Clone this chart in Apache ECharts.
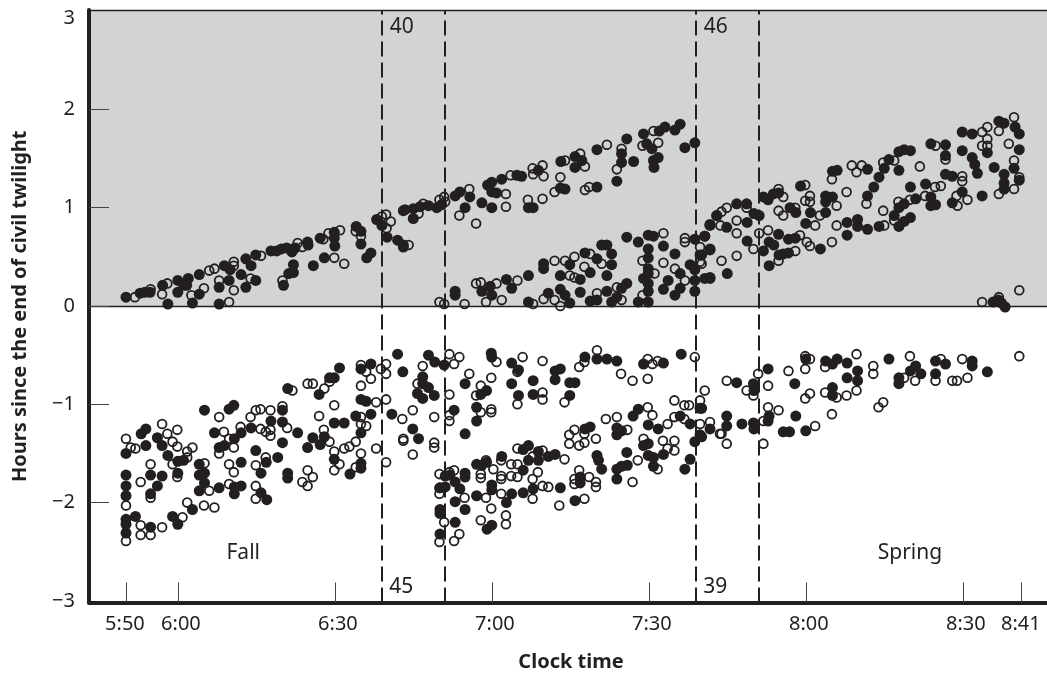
<!DOCTYPE html>
<html><head><meta charset="utf-8">
<script src="https://cdn.jsdelivr.net/npm/echarts@6/dist/echarts.min.js"></script>
<style>html,body{margin:0;padding:0;background:#fff}#c{width:1047px;height:673px}</style>
</head><body><div id="c"></div>
<script>
// x = minutes after 5:50 clock time, y = hours since the end of civil twilight
const tickMinutes=[0,10,40,70,100,130,160,171];
const tickLabels=['5:50','6:00','6:30','7:00','7:30','8:00','8:30','8:41'];
const labelMinutes=[-0.2,10.5,40.5,70.5,100.5,130.5,160.5,171];
const yTicks=[-2,-1,0,1,2];
const yLabelValues=[-3,-2,-1,0,1,2,2.93];
const dashedMinutes=[48.9,61,108.9,121];
const notes=[[52.7,2.84,'40'],[112.7,2.84,'46'],[52.6,-2.86,'45'],[112.6,-2.86,'39'],[22.4,-2.51,'Fall'],[149.8,-2.51,'Spring']];

const filledAbove=[[0,.09],[2.7,.13],[3.6,.14],[4.6,.14],[7,.21],[8,.02],[9.9,.26],[9.9,.14],[11,.21],[11.9,.28],[11.6,.21],[12.7,.03],[14,.12],[14,.32],[17.8,.02],[17.8,.19],[18.8,.41],[19.7,.26],[19.9,.37],[22,.32],[22.9,.19],[22.9,.48],[23.9,.41],[24.8,.26],[24.8,.52],[27.7,.56],[28.8,.56],[29.7,.58],[30.7,.59],[31.7,.55],[32.3,.59],[31.1,.33],[32,.42],[32,.34],[30.1,.21],[34.7,.65],[34.8,.62],[35.8,.41],[37.1,.69],[37.9,.49],[39.8,.75],[39.8,.69],[39.9,.61],[44,.81],[44.9,.76],[44.9,.63],[46,.49],[46.8,.54],[47.9,.88],[48.9,.82],[49.9,.7],[51.9,.67],[53,.6],[53,.97],
[53.3,.98],[54.9,.89],[54.9,.99],[56.2,1.01],[57.8,1.02],[59.4,1],[60.3,1.03],[53,.62],[62.9,1.12],[63.8,1.16],[65.7,1.11],[64.8,1],[68,1.05],[69.1,1.23],[69.9,1.26],[69.9,1.16],[70.8,1.15],[69.9,1],[71.8,1.29],[74.7,1.33],[75.6,1.32],[76.9,1],[77.8,1],[78.8,1.38],[83.1,1.47],[83,1.2],[83.9,1.19],[85.8,1.52],[85.8,1.41],[87.1,1.48],[90,1.59],[90,1.21],[93.8,1.27],[94.7,1.55],[94.7,1.46],[95.7,1.7],[97,1.47],[98.9,1.75],[99.5,1.65],[100.5,1.6],[100.8,1.48],[101.7,1.51],[100.9,1.41],[101.9,1.78],[103,1.82],[104.9,1.79],[105.9,1.85],[106.8,1.61],[108.7,1.66],
[62.9,.11],[62.9,.15],[68,.15],[69.6,.2],[69.9,.11],[72.7,.27],[73.7,.18],[76.9,.31],[76.9,.04],[79.8,.43],[79.8,.38],[80.7,.13],[83,.31],[83,.17],[83.9,.11],[84.8,.42],[84.8,.03],[86.8,.14],[86.8,.27],[87.7,.54],[88.7,.34],[88.7,.05],[90,.48],[90,.06],[90.9,.62],[91.9,.62],[91.9,.31],[91.9,.15],[92.8,.53],[92.8,.42],[92.8,.04],[93.8,.09],[94.7,.18],[95.7,.23],[95.7,.7],[97.9,.65],[97.9,.04],[99.8,.72],[100.8,.71],[99.8,.58],[99.8,.49],[99.8,.38],[98.9,.28],[99.8,.33],[99.8,.23],[99.8,.15],[99.8,.04],[102.7,.61],[102.7,.17],[103.6,.26],[104.9,.53],[104.9,.11],[105.9,.33],[105.9,.18],[107.8,.42],[108.7,.37],[108.7,.26],[108.7,.15],[109.7,.52],[108.7,.68],[110.6,.71],[111.6,.82],[111.6,.58],[111.6,.29],[112.9,.92],
[110,.52],[111.6,.57],[110.6,.28],[111.6,.28],[114.9,.33],[110.6,.71],[111.6,.83],[112.9,.92],[114.8,.8],[116.7,1.04],[118.6,1.04],[118.7,.85],[118.7,.66],[120,.94],[121,.92],[121.8,.56],[121.8,1.11],[122.7,1.08],[123.7,1.14],[124.7,1.15],[122.9,.41],[124.7,.73],[122.9,.65],[123.8,.62],[124.8,.52],[125.6,.53],[126.6,.54],[126.6,.68],[127.9,.69],[126.9,1],[128,.95],[128.9,1.22],[129.9,.84],[130.8,.95],[132.7,.58],[133.7,.95],[133.7,1.12],[133.7,1.06],[135,1.11],[135,1.37],[135.9,1.38],[137.8,.85],[137.8,.72],[139.8,.88],[139.8,.81],[141.7,1.39],[141.7,1.12],[141.7,.78],[142.9,1.21],[143.9,1.31],[143.9,.81],[144.9,1.4],[145.8,1.49],[146.8,.92],[147.7,1.57],[147.7,1.38],[147.7,1],[147.7,.81],[148.7,1.59],[148.7,1.04],[148.7,.86],[149.9,1.58],[149.9,1.21],[149.9,.9],[150.9,1.09],[152.8,1.24],[153.8,1.65],[153.8,1.11],[153.8,1.02],[154.7,1.03],[156.6,1.64],[156.6,1.53],[156.6,1.34],[157.9,1.32],[157.9,1.05],[159.8,1.77],[159.8,1.58],[159.8,1.16],[161.7,1.75],[161.7,1.51],[162.2,1.44],[162.7,1.35],[163.6,1.12],[164.6,1.56],[165.9,1.41],[166.8,1.88],[167.8,1.86],[167.8,1.34],[167.8,1.25],[167.8,1.19],[169.7,1.4],[169.9,1.82],[170.7,1.75],[170.7,1.59],[170.7,1.28],[165.7,.04],[166.7,.06],[167.3,.03],[168,-.01]];

const openAbove=[[1.7,.09],[6.9,.12],[4.7,.17],[7.9,.23],[12.5,.11],[14.9,.18],[19.7,.04],[15.9,.36],[16.9,.38],[17.8,.26],[20.6,.16],[20.6,.45],[20.6,.41],[23.8,.28],[25.8,.51],[29.9,.26],[32.8,.64],[33.7,.6],[37.7,.68],[38.7,.74],[40.9,.77],[39.8,.49],[41.7,.43],[43.9,.76],[44.9,.71],[49.7,.93],[50.6,.86],[49.8,.79],[48.9,.91],
[54,.62],[55.9,.94],[56.8,1.04],[59.9,1.08],[60.8,1.11],[61,1.06],[63.7,.92],[65.6,1.19],[66.9,.84],[72.6,1.14],[72.6,1.01],[73.5,1.33],[76.8,1.08],[77.7,1.4],[77.8,1.34],[79.6,1.43],[79.8,1.32],[79.6,1.09],[81.9,1.16],[83,1.31],[83.9,1.48],[86.8,1.55],[87.7,1.18],[88.5,1.21],[87.7,1.42],[91.9,1.64],[93.8,1.39],[94.7,1.6],[98.7,1.63],[100.8,1.78],[101.7,1.66],
[59.9,.04],[60.8,.02],[64.7,.02],[66.9,.23],[67.8,.24],[68.8,.04],[70.8,.23],[71.8,.06],[74.8,.26],[77.8,.02],[79.8,.07],[81.9,.46],[81.9,.06],[83,0],[83.9,.46],[84.8,.31],[85.7,.5],[85.7,.29],[87.6,.4],[88.7,.53],[90,.13],[90.9,.43],[93.8,.19],[94.7,.06],[98.7,.46],[98.7,.11],[102.7,.74],[102.7,.44],[101,.33],[104.9,.38],[106.8,.69],[106.8,.65],[106.8,.26],[109.7,.6],[109.7,.45],
[110,.43],[113.8,.46],[116.7,.51],[119.9,.58],[113.8,.96],[114.8,1],[113.6,.82],[116.7,.87],[116.7,.74],[118.6,1],[121,.74],[122.7,.77],[124.7,1.19],[125.6,1.11],[124.7,.97],[125.6,.92],[127.9,1],[127.9,.56],[124.7,.46],[128.8,.72],[129.8,1.23],[130.7,1.12],[129.8,1.07],[130.7,1.06],[130.1,.65],[130.7,.61],[131.7,.82],[132.6,.92],[135.8,1.02],[134.9,1.29],[134.9,.65],[135.8,.82],[137.7,1.16],[138.7,1.43],[139.6,1.36],[140.6,1.43],[141.5,1.04],[144.7,.97],[144.7,1.46],[144.9,.82],[146.8,1.48],[146.8,.87],[147.6,1.06],[149.8,1.08],[151.7,1.42],[152.7,1.12],[154.6,1.21],[155.7,1.22],[154.7,1.63],[156.6,1.49],[158.7,1.12],[158.9,1.02],[159.8,1.32],[159.8,1.27],[160.8,1.08],[163.6,1.77],[164.6,1.82],[164.6,1.7],[163.6,1.63],[164.6,1.63],[166.8,1.78],[166.8,1.14],[168.7,1.65],[169.7,1.92],[169.7,1.48],[169.7,1.19],[170.7,1.31],[163.6,.04],[166.8,.09],[170.7,.16]];

const filledBelow=[[0,-1.5],[0,-1.72],[0,-1.83],[0,-1.93],[0,-2.17],[0,-2.22],[0,-2.31],[1.8,-2.14],[2.9,-1.3],[3.8,-1.25],[3.8,-1.42],[4.7,-1.72],[4.7,-1.91],[4.7,-2.25],[6,-1.34],[6,-1.83],[6.9,-1.73],[6.9,-1.42],[8,-1.52],[8.9,-2.14],[9.9,-1.58],[9.9,-1.7],[9.9,-2.22],[11,-1.57],[12.7,-2.07],[14,-1.61],[14,-1.72],[15,-1.7],[15,-1.8],[14,-1.88],[15,-1.06],[16.9,-1.29],[17.8,-1.44],[17.8,-1.85],[18.8,-1.42],[19.7,-1.05],[20.6,-1.01],[20.7,-1.35],[20.7,-1.84],[20.7,-1.91],[22,-1.29],[22,-1.59],[22,-1.83],[23.9,-1.24],[24.8,-1.47],[25.8,-1.7],[25.8,-1.9],[26.9,-1.97],[26.8,-1.59],[27.7,-1.17],[29,-1.54],[29.9,-1.06],[29.9,-1.18],[29.9,-1.39],[30.9,-1.7],[30.9,-1.75],[30.9,-.84],[32.8,-1.29],[34.7,-1.44],[35.7,-1.34],[36.9,-.9],[37.1,-1.41],[37.9,-1.33],[38.9,-.73],[39.8,-.73],[39.8,-1.19],[39.8,-1.56],[40.8,-.63],[41.7,-1.19],[42.8,-1.71],[43.9,-1.12],[44.9,-.64],[44.9,-1.29],[44.9,-1.6],[44.9,-1.65],[44.9,-.95],[45.9,-.97],[46.8,-.59],[46.8,-1.1],[50.8,-1.1],[51.9,-.49],[52.9,-.67],
[54.8,-1.25],[55.9,-1.35],[55.7,-.89],[56.7,-.72],[56.7,-.79],[56.7,-.94],[57.8,-.5],[57.8,-.83],[59,-.57],[58.9,-.91],[60.8,-.6],[62.7,-1.06],[64.8,-.79],[64.8,-1.3],[67,-1.03],[67,-1.17],[67.8,-.9],[68.9,-.86],[69.8,-.48],[69.9,-.52],[73.7,-.58],[73.7,-.79],[75,-.65],[75,-.91],[77.8,-.76],[77.8,-.9],[82,-.75],[82,-.66],[83,-.64],[84.8,-.91],[84.8,-.78],[85.8,-.78],[87.7,-.52],[90,-.54],[91.9,-.54],[93.8,-.56],[98.9,-.59],[102.7,-.58],[106.1,-.49],
[60,-2.32],[60,-2.07],[60,-2.11],[60,-1.85],[61,-1.84],[61,-1.73],[61.9,-1.72],[62.9,-1.79],[62.9,-1.99],[62.9,-2.2],[63.8,-1.86],[64.8,-1.7],[64.8,-1.74],[64.8,-2.07],[67,-1.93],[67,-1.61],[68,-1.62],[68.9,-1.59],[69,-2.27],[69.9,-2.23],[69.9,-1.82],[69.9,-1.87],[71.8,-1.53],[72.7,-2],[73.7,-1.91],[75.9,-1.9],[75.9,-1.46],[76.9,-1.42],[75.9,-1.67],[76.9,-1.57],[77.8,-1.86],[78.8,-1.48],[78.8,-1.57],[80.7,-1.53],[82,-1.51],[83,-1.85],[85.8,-1.98],[86.8,-1.74],[86.8,-1.8],[87.7,-1.25],[88.7,-1.23],[90,-1.52],[90.3,-1.57],[90.9,-1.66],[93.8,-1.31],[93.8,-1.24],[94.7,-1.27],[93.8,-1.66],[93.8,-1.76],[94.7,-1.63],[95.8,-1.62],[95.7,-1.49],[96.9,-1.12],[97.9,-1.05],[99.8,-1.21],[98.9,-1.42],[99.8,-1.52],[99.8,-1.4],[100.8,-1.54],[100.8,-1.63],[101.7,-1.25],[102.7,-1.51],[105.9,-1.12],[106.8,-1.66],[107.8,-1.2],[107.8,-1.56],[108.7,-1.38],[109.7,-1.04],[109.7,-1.31],[111.6,-1.25],
[110,-1.04],[110,-1.33],[114.8,-1.12],[114.8,-1.22],[116.7,-.78],[117.7,-1.2],[119.9,-.79],[120,-.86],[119.9,-1.19],[120,-1.25],[122.7,-.64],[122.9,-1.12],[122.7,-1.17],[125.6,-1.28],[126.8,-1.28],[127.8,-.79],[128,-1.12],[129.9,-.54],[129.9,-1.27],[133.7,-.56],[135,-.59],[135.9,-.54],[135,-.83],[135,-.91],[137.8,-.58],[137.8,-.73],[139.8,-.66],[139.8,-.76],[145.8,-.54],[147.7,-.73],[147.7,-.79],[149.9,-.66],[150.9,-.61],[151.9,-.69],[154.7,-.56],[154.7,-.69],[156.6,-.59],[161.7,-.56],[161.7,-.61],[164.6,-.67]];

const openBelow=[[0,-1.35],[0,-2.03],[0,-2.39],[.9,-1.44],[1.8,-1.45],[2.8,-1.79],[2.8,-2.23],[2.8,-2.33],[4.7,-1.61],[4.7,-2.33],[4.7,-1.95],[6.9,-1.2],[6.9,-2.25],[7.9,-1.3],[8.9,-1.38],[9.8,-1.26],[9.8,-1.43],[8.9,-1.61],[9.8,-1.74],[10.8,-2.15],[11.7,-1.48],[11.7,-1.54],[12.7,-1.44],[11.7,-2],[15,-1.6],[15.9,-1.88],[14.9,-2.03],[16.9,-2.05],[17.8,-1.13],[17.8,-1.5],[18.7,-1.28],[19.7,-1.35],[20.6,-1.44],[19.7,-1.61],[20.6,-1.69],[19.7,-1.81],[21.9,-1.23],[23.8,-1.13],[24.8,-1.06],[25.7,-1.05],[25.7,-1.25],[26.7,-1.28],[27.6,-1.26],[27.6,-1.32],[27.6,-1.06],[26.7,-1.54],[24.8,-1.62],[24.8,-1.83],[24.8,-1.96],[29.9,-1.02],[30.8,-1.24],[31.8,-.86],[34.7,-.79],[35.7,-.79],[34.7,-1.67],[33.7,-1.79],[34.7,-1.83],[35.7,-1.74],[36.9,-1.12],[37.9,-.84],[38.9,-.77],[37.8,-1.26],[38.9,-1.38],[39.8,-1.01],[39.8,-1.48],[40.8,-1.61],[39.8,-1.67],[41.7,-1.45],[42.7,-1.43],[43.9,-1.38],[43.9,-1.64],[44.9,-.81],[44.9,-1.13],[44.9,-1.2],[45.9,-1.22],[44.9,-1.5],[45.9,-.67],[46.8,-.74],[47.8,-.98],[47.8,-1.45],[44.9,-.6],[48.7,-.64],[49.7,-.59],[49.7,-.69],[49.7,-.95],[49.7,-1.59],[52.8,-1.15],[53,-1.35],
[54.8,-1.51],[54.8,-1.06],[53,-1.37],[55.7,-.79],[56.7,-.61],[58.9,-1.13],[58.9,-1.39],[58.9,-1.44],[61.8,-.49],[62.7,-.59],[63.7,-.52],[61.8,-.9],[61.8,-1.11],[61.8,-1.17],[65.6,-.69],[66.9,-.91],[67.8,-.81],[67.8,-1.08],[69.8,-1.05],[69.8,-1.08],[69.8,-.73],[70.8,-.57],[74.8,-.67],[74.8,-1],[75.8,-.52],[79.6,-.56],[79.6,-.88],[79.6,-.95],[83.8,-.98],[86.6,-.62],[87.6,-.57],[90,-.45],[94.6,-.69],[96.8,-.76],[99.7,-.54],[99.7,-.74],[100.6,-.59],[101.6,-.56],[108.7,-.52],[110.6,-.86],
[59.9,-1.71],[59.9,-1.85],[59.9,-1.91],[59.9,-2.4],[60.8,-2.2],[61.8,-1.69],[62.7,-1.67],[62.7,-2.39],[63.7,-2.32],[64.7,-1.95],[67.8,-1.71],[67.8,-1.75],[67.8,-2.18],[68.8,-1.57],[68.8,-1.95],[69.8,-2.06],[70.2,-1.66],[71.7,-1.57],[71.7,-1.73],[71.7,-1.76],[71.7,-1.91],[72.6,-2.13],[72.6,-2.22],[73.6,-1.61],[73.6,-1.73],[74.8,-1.45],[74.8,-1.61],[74.8,-1.74],[77.7,-1.53],[77.7,-1.76],[77.7,-1.96],[78.7,-1.69],[79.6,-1.47],[79.6,-1.83],[80.7,-1.84],[83.8,-1.56],[82.8,-2.03],[84.7,-1.31],[84.7,-1.4],[85.7,-1.26],[86.6,-1.42],[87.6,-1.39],[87.6,-1.3],[85.7,-1.76],[85.7,-1.81],[86.6,-1.67],[87.6,-1.96],[88.5,-1.74],[89.8,-1.35],[89.8,-1.79],[89.8,-1.84],[91.7,-1.15],[93.8,-1.13],[95.8,-1.26],[96.8,-1.79],[97.8,-1.57],[98.9,-1.35],[99.7,-1.03],[100.6,-1.11],[101.6,-1.66],[102.6,-1.37],[103.5,-1.2],[103.5,-1.45],[104.8,-1.13],[104.8,-1.37],[104.8,-1.47],[104.8,-.96],[106.7,-1.01],[107.6,-1.01],[106.7,-1.15],[109.7,-.96],[109.7,-1.2],[111.6,-1.18],[113.5,-1.3],
[113.8,-1.3],[114.8,-.76],[114.8,-1.4],[118.6,-.86],[119.9,-.91],[120.8,-.69],[121.8,-1.17],[121.8,-1.4],[122.7,-.81],[122.7,-1.03],[124.7,-1.06],[126.6,-.66],[129.8,-.64],[129.8,-.51],[130.7,-.54],[129.8,-.94],[130.7,-.89],[131.7,-1.22],[133.6,-.62],[133.6,-.88],[134.9,-1.1],[135.8,-.93],[137.7,-.91],[139.6,-.49],[139.6,-.86],[142.8,-.61],[142.8,-.69],[143.8,-1.03],[144.7,-.98],[148.7,-.73],[149.8,-.51],[150.8,-.76],[154.7,-.76],[155.7,-.54],[157.9,-.76],[158.8,-.76],[159.8,-.54],[160.8,-.73],[170.7,-.51]];

const xMin=-7.07,xMax=176,yMin=-3.016,yMax=3.011;
const ink='#231f20',font='"Noto Sans"';
const chart=echarts.init(document.getElementById('c'),null,{renderer:'canvas'});
chart.setOption({
 animation:false,
 grid:{left:89,right:0,top:10,bottom:70.5,containLabel:false,outerBoundsMode:'none'},
 xAxis:{type:'value',min:xMin,max:xMax,z:10,splitLine:{show:false},
  name:'Clock time',nameLocation:'middle',nameGap:50,nameTextStyle:{fontFamily:font,fontWeight:'bold',fontSize:20,color:ink,padding:[0,0,0,6]},
  axisLine:{show:true,onZero:false,lineStyle:{color:ink,width:4}},
  axisTick:{show:true,inside:true,length:20,customValues:tickMinutes,lineStyle:{color:'#444',width:1}},
  axisLabel:{show:true,fontFamily:font,fontSize:20,color:ink,margin:12,customValues:labelMinutes,hideOverlap:false,showMinLabel:true,showMaxLabel:true,
   formatter:v=>tickLabels[labelMinutes.indexOf(v)]}},
 yAxis:{type:'value',min:yMin,max:yMax,z:10,splitLine:{show:false},
  name:'Hours since the end of civil twilight',nameLocation:'middle',nameGap:59,nameRotate:90,nameTextStyle:{fontFamily:font,fontWeight:'bold',fontSize:20,color:ink},
  axisLine:{show:true,onZero:false,lineStyle:{color:ink,width:4}},
  axisTick:{show:true,inside:true,length:20,customValues:yTicks,lineStyle:{color:'#444',width:1}},
  axisLabel:{show:true,fontFamily:font,fontSize:20,color:ink,margin:14,customValues:yLabelValues,
   formatter:v=>{const r=Math.round(v);return r<0?'\u2212'+(-r):String(r);}}},
 series:[
  {type:'scatter',name:'frame',data:[],z:1,silent:true,
   markArea:{silent:true,itemStyle:{color:'#d1d3d4',opacity:1},data:[[{coord:[xMin,0]},{coord:[xMax,yMax]}]]},
   markLine:{silent:true,symbol:'none',label:{show:false},lineStyle:{color:ink,width:1.3,type:'solid',opacity:1},
    data:[{yAxis:0},{yAxis:yMax}]}},
  {type:'scatter',name:'dashes',data:[],z:2,silent:true,
   markLine:{silent:true,symbol:'none',label:{show:false},lineStyle:{color:ink,width:2,type:[15,6],opacity:1},
    data:dashedMinutes.map(m=>({xAxis:m}))}},
  {type:'scatter',name:'Open',z:3,symbol:'circle',symbolSize:8.8,silent:true,
   itemStyle:{color:'rgba(0,0,0,0)',borderColor:ink,borderWidth:1.8,opacity:1},
   data:openAbove.concat(openBelow)},
  {type:'scatter',name:'Filled',z:4,symbol:'circle',symbolSize:11,silent:true,
   itemStyle:{color:ink,opacity:1},
   data:filledAbove.concat(filledBelow)},
  {type:'scatter',name:'Notes',z:5,symbolSize:0,silent:true,itemStyle:{opacity:1},
   label:{show:true,position:'inside',fontFamily:font,fontSize:21,color:ink,opacity:1,formatter:p=>p.value[2]},
   data:notes}
 ]
});
</script></body></html>
